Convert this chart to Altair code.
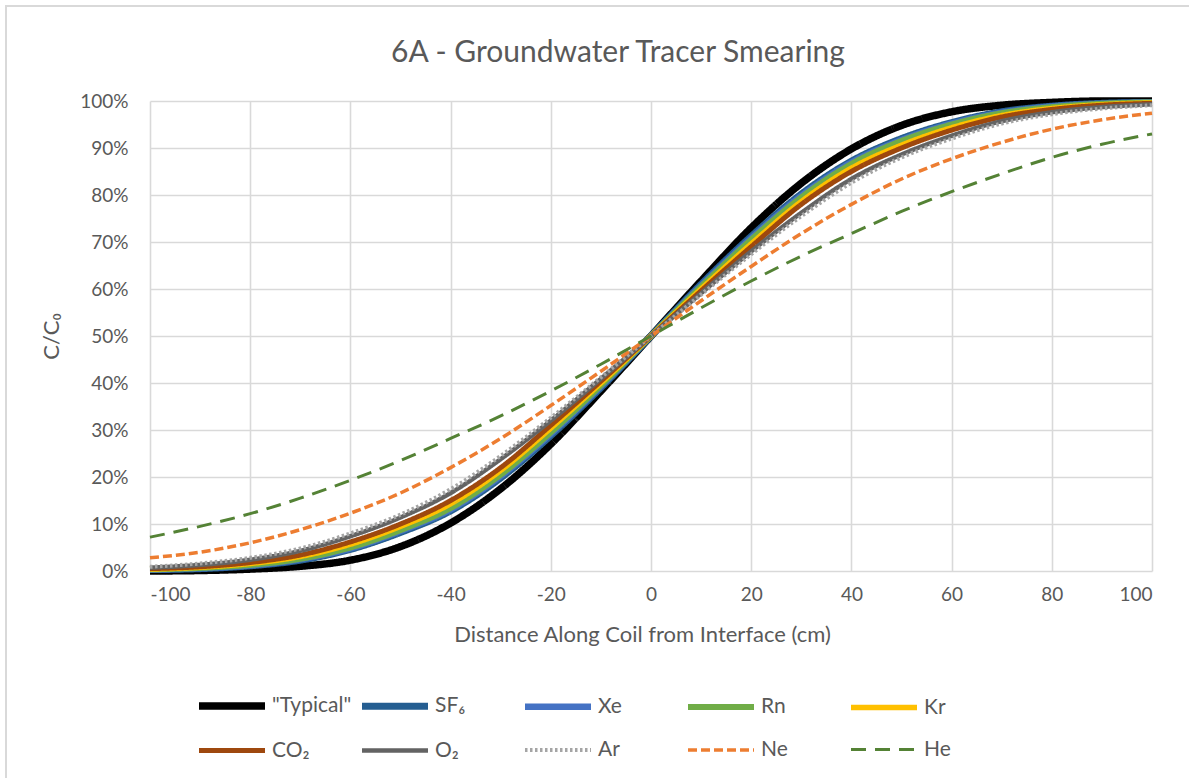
import altair as alt
import pandas as pd

# ---- data ----
x_cm = [-100, -90, -80, -70, -60, -50, -40, -30, -20, -10, 0,
        10, 20, 30, 40, 50, 60, 70, 80, 90, 100]

series_names = ['"Typical"', "SF₆", "Xe", "Rn", "Kr", "CO₂", "O₂", "Ar", "Ne", "He"]

typical = [0.0, 0.1, 0.4, 1.0, 2.3, 5.2, 10.2, 17.5, 27.0, 38.3, 50,
           61.7, 73.0, 82.5, 89.8, 94.8, 97.7, 99.1, 99.7, 100, 100]
sf6 = [0.3, 0.5, 1.1, 2.3, 4.6, 8.2, 12.8, 19.8, 28.8, 39.0, 50,
       61.0, 71.2, 80.2, 87.2, 92.0, 95.4, 97.7, 98.9, 99.5, 99.7]
xe = [0.3, 0.6, 1.2, 2.5, 4.8, 8.5, 13.1, 20.2, 29.2, 39.3, 50,
      60.7, 70.8, 79.8, 86.9, 91.7, 95.2, 97.5, 98.8, 99.4, 99.7]
rn = [0.35, 0.65, 1.3, 2.6, 5.0, 8.7, 13.4, 20.5, 29.5, 39.5, 50,
      60.5, 70.5, 79.5, 86.6, 91.5, 95.0, 97.4, 98.7, 99.4, 99.7]
kr = [0.4, 0.8, 1.6, 3.1, 5.7, 9.5, 14.3, 21.4, 30.4, 40.0, 50,
      60.0, 69.6, 78.6, 85.7, 90.6, 94.3, 96.9, 98.4, 99.2, 99.6]
co2 = [0.5, 0.9, 1.8, 3.4, 6.2, 10.0, 15.0, 22.0, 31.0, 40.4, 50,
       59.6, 69.0, 78.0, 85.0, 90.0, 93.8, 96.6, 98.2, 99.1, 99.5]
o2 = [0.7, 1.3, 2.4, 4.3, 7.4, 11.4, 16.6, 23.8, 32.0, 40.9, 50,
      59.1, 68.0, 76.2, 83.4, 88.6, 92.6, 95.7, 97.6, 98.7, 99.3]
ar = [0.9, 1.6, 2.8, 4.8, 8.0, 12.0, 17.4, 24.5, 32.6, 41.2, 50,
      58.8, 67.4, 75.5, 82.6, 88.0, 92.0, 95.2, 97.2, 98.4, 99.1]
ne = [2.8, 4.0, 6.0, 8.8, 12.3, 16.6, 22.0, 28.2, 35.2, 42.5, 50,
      57.5, 64.8, 71.8, 78.0, 83.4, 87.7, 91.2, 94.0, 96.0, 97.4]
he = [7.2, 9.5, 12.2, 15.5, 19.3, 23.5, 28.2, 33.0, 38.3, 44.0, 50,
      56.0, 61.7, 67.0, 71.8, 76.5, 80.7, 84.5, 88.0, 90.8, 93.0]

all_values = [typical, sf6, xe, rn, kr, co2, o2, ar, ne, he]

# ---- styles ----
colors = ["#000000", "#255E91", "#4472C4", "#70AD47", "#FFC000",
          "#9E480E", "#636363", "#A5A5A5", "#ED7D31", "#548235"]
dashes = [[1, 0], [1, 0], [1, 0], [1, 0], [1, 0],
          [1, 0], [1, 0], [2.5, 2.5], [9, 4], [15, 9]]
widths = [7.5, 3, 3, 3, 3, 3, 3, 3, 3, 3.2]

rows = []
for k, (name, vals) in enumerate(zip(series_names, all_values)):
    for x, v in zip(x_cm, vals):
        rows.append({"series": name, "k": k, "x": x, "y": v / 100.0})
df = pd.DataFrame(rows)

TXT = "#595959"
FONT = "Lato"

lines = alt.Chart(df).mark_line(interpolate="monotone").encode(
    x=alt.X("x:Q",
            scale=alt.Scale(domain=[-100, 100], nice=False),
            axis=alt.Axis(values=list(range(-100, 101, 20)),
                          labelExpr="toString(datum.value)",
                          title="Distance Along Coil from Interface (cm)",
                          titleX=492, titleAlign="center",
                          labelPadding=14, titlePadding=20)),
    y=alt.Y("y:Q",
            scale=alt.Scale(domain=[0, 1], nice=False),
            axis=alt.Axis(values=[i / 10 for i in range(11)], format=".0%",
                          title="C/C₀", labelPadding=22, titlePadding=16)),
    color=alt.Color("series:N",
                    scale=alt.Scale(domain=series_names, range=colors),
                    legend=alt.Legend(title=None, orient="none", legendX=45, legendY=590,
                                      direction="horizontal", columns=5,
                                      symbolType="M-1,0H5", symbolSize=484,
                                      labelFontSize=21, labelColor=TXT, labelFont=FONT,
                                      columnPadding=-4, rowPadding=16, gridAlign="all",
                                      labelOffset=47)),
    strokeDash=alt.StrokeDash("series:N",
                              scale=alt.Scale(domain=series_names, range=dashes)),
    strokeWidth=alt.StrokeWidth("series:N",
                                scale=alt.Scale(domain=series_names, range=widths)),
    order=alt.Order("x:Q"),
    detail="k:O",
)

frame = alt.Chart(pd.DataFrame({"a": [0]})).mark_rect(
    fillOpacity=0, stroke="#d9d9d9", strokeWidth=2
).encode(
    x=alt.value(-144), x2=alt.value(1060),
    y=alt.value(-95), y2=alt.value(700),
)

chart = alt.layer(frame, lines).properties(
    width=1002, height=470,
    title=alt.TitleParams("6A - Groundwater Tracer Smearing", fontSize=30, color=TXT,
                          font=FONT, fontWeight="normal", anchor="middle",
                          dx=-33, offset=0, dy=63),
    padding={"left": 150, "top": 101, "right": 37, "bottom": 207},
    autosize=alt.AutoSizeParams(type="none"),
    background="white",
).configure_axis(
    grid=True, gridColor="#d9d9d9", gridWidth=1.6,
    domain=False, ticks=False,
    labelFontSize=19, labelColor=TXT, labelFont=FONT,
    titleFontSize=22, titleColor=TXT, titleFont=FONT, titleFontWeight="normal",
).configure_view(stroke=None)

chart.save("out.html", embed_options={"renderer": "svg", "actions": False})
